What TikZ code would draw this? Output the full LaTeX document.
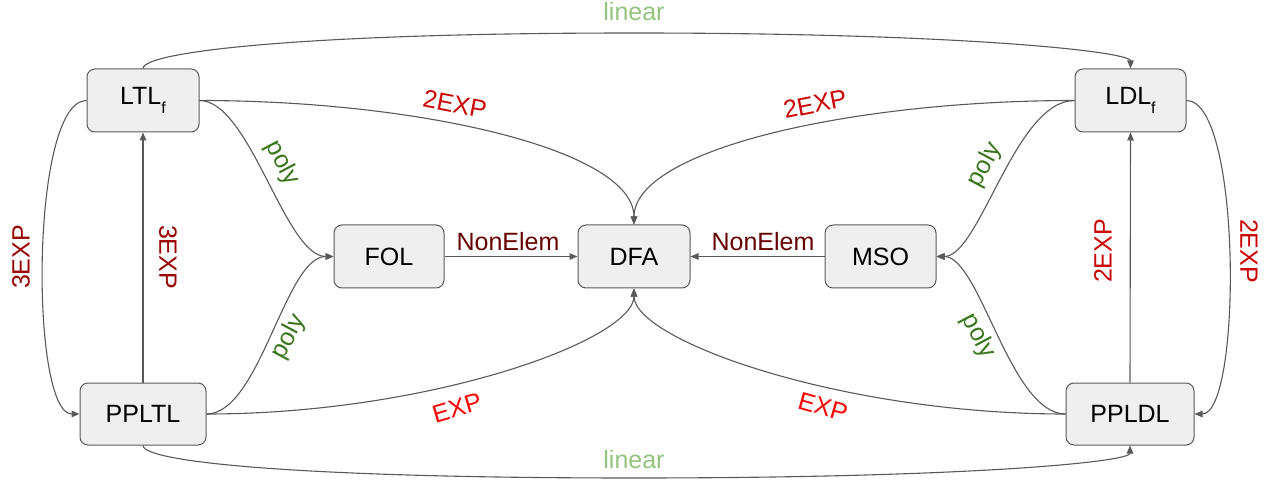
\documentclass[tikz,border=0pt]{standalone}
\usepackage{fontspec}
\setmainfont{Liberation Sans}
\usetikzlibrary{arrows.meta}
\definecolor{linegray}{HTML}{595959}
\definecolor{boxfill}{HTML}{EFEFEF}
\definecolor{lightgreen}{HTML}{93C47D}
\definecolor{darkgreen}{HTML}{38761D}
\definecolor{redA}{HTML}{CC0000}
\definecolor{redB}{HTML}{990000}
\definecolor{redC}{HTML}{FF0000}
\definecolor{redD}{HTML}{660000}
\begin{document}
\begin{tikzpicture}[x=1pt,y=-1pt,
  box/.style={draw=linegray, fill=boxfill, rounded corners=8pt, line width=1pt,
    minimum height=63pt, inner sep=0pt, font=\fontsize{25}{30}\selectfont},
  conn/.style={draw=linegray, line width=1.1pt, -{Triangle[length=8pt,width=6.5pt]}},
  lab/.style={inner sep=0pt, font=\fontsize{25}{30}\selectfont}]
\useasboundingbox (0,0) rectangle (1275,481);

\node[box, minimum width=112pt] (LTLf) at (143,100.5) {LTL\raisebox{-9pt}{\fontsize{16}{16}\selectfont f}};
\node[box, minimum width=111pt] (LDLf) at (1130.5,100.5) {LDL\raisebox{-9pt}{\fontsize{16}{16}\selectfont f}};
\node[box, minimum width=110pt] (FOL) at (389,256.5) {FOL};
\node[box, minimum width=112pt] (DFA) at (634,256.5) {DFA};
\node[box, minimum width=111pt] (MSO) at (880.5,256.5) {MSO};
\node[box, minimum width=126pt, minimum height=62pt] (PPLTL) at (143,414) {PPLTL};
\node[box, minimum width=128pt, minimum height=62pt] (PPLDL) at (1130,414) {PPLDL};

\coordinate (topmid) at (634,33);
\coordinate (botmid) at (634,478);

% top / bottom linear
\draw[conn] (LTLf.north) .. controls (143,52) and (300,33) .. (topmid) .. controls (968,33) and (1130.5,52) .. (LDLf.north);
\draw[conn] (PPLTL.south) .. controls (143,462) and (300,478) .. (botmid) .. controls (968,478) and (1130,462) .. (PPLDL.south);

% outer side curves
\draw[conn] (LTLf.west) .. controls (30,100.5) and (30,414) .. (PPLTL.west);
\draw[conn] (LDLf.east) .. controls (1242,100.5) and (1242,414) .. (PPLDL.east);

% vertical
\draw[conn] (PPLTL.north) -- (LTLf.south);
\draw[conn] (PPLDL.north) -- (LDLf.south);

% to DFA
\draw[conn] (LTLf.east) .. controls (420,100.5) and (634,150) .. (DFA.north);
\draw[conn] (LDLf.east -| LDLf.west) .. controls (850,100.5) and (634,150) .. (DFA.north);
\draw[conn] (PPLTL.east) .. controls (430,414) and (634,340) .. (DFA.south);
\draw[conn] (PPLDL.west) .. controls (840,414) and (634,340) .. (DFA.south);

% poly
\draw[conn] (LTLf.east) .. controls (250,100.5) and (285,256.5) .. (FOL.west);
\draw[conn] (PPLTL.east) .. controls (260,414) and (285,256.5) .. (FOL.west);
\draw[conn] (LDLf.west) .. controls (1015,100.5) and (980,256.5) .. (MSO.east);
\draw[conn] (PPLDL.west) .. controls (1010,414) and (980,256.5) .. (MSO.east);

% NonElem
\draw[conn] (FOL.east) -- (DFA.west);
\draw[conn] (MSO.west) -- (DFA.east);

% labels
\node[lab, text=lightgreen] (lLinTop) at (634,12) {linear};
\node[lab, text=lightgreen] (lLinBot) at (634,460) {linear};
\node[lab, text=redA, rotate=-11] (l2expL) at (455,104) {2EXP};
\node[lab, text=redA, rotate=11] (l2expR) at (815,104) {2EXP};
\node[lab, text=darkgreen, rotate=-62] (lpolyTL) at (282,163) {poly};
\node[lab, text=darkgreen, rotate=62] (lpolyTR) at (985,165) {poly};
\node[lab, text=darkgreen, rotate=62] (lpolyBL) at (289,337) {poly};
\node[lab, text=darkgreen, rotate=-62] (lpolyBR) at (978,336) {poly};
\node[lab, text=redC, rotate=16] (lexpL) at (457,408) {EXP};
\node[lab, text=redC, rotate=-16] (lexpR) at (823,407) {EXP};
\node[lab, text=redB, rotate=90] (l3expO) at (21,257) {3EXP};
\node[lab, text=redB, rotate=-90] (l3expI) at (168,257) {3EXP};
\node[lab, text=redA, rotate=90] (l2expI) at (1103,251) {2EXP};
\node[lab, text=redA, rotate=-90] (l2expO) at (1249,251) {2EXP};
\node[lab, text=redD] (lneL) at (508,242) {NonElem};
\node[lab, text=redD] (lneR) at (763,242) {NonElem};
\end{tikzpicture}
\end{document}
